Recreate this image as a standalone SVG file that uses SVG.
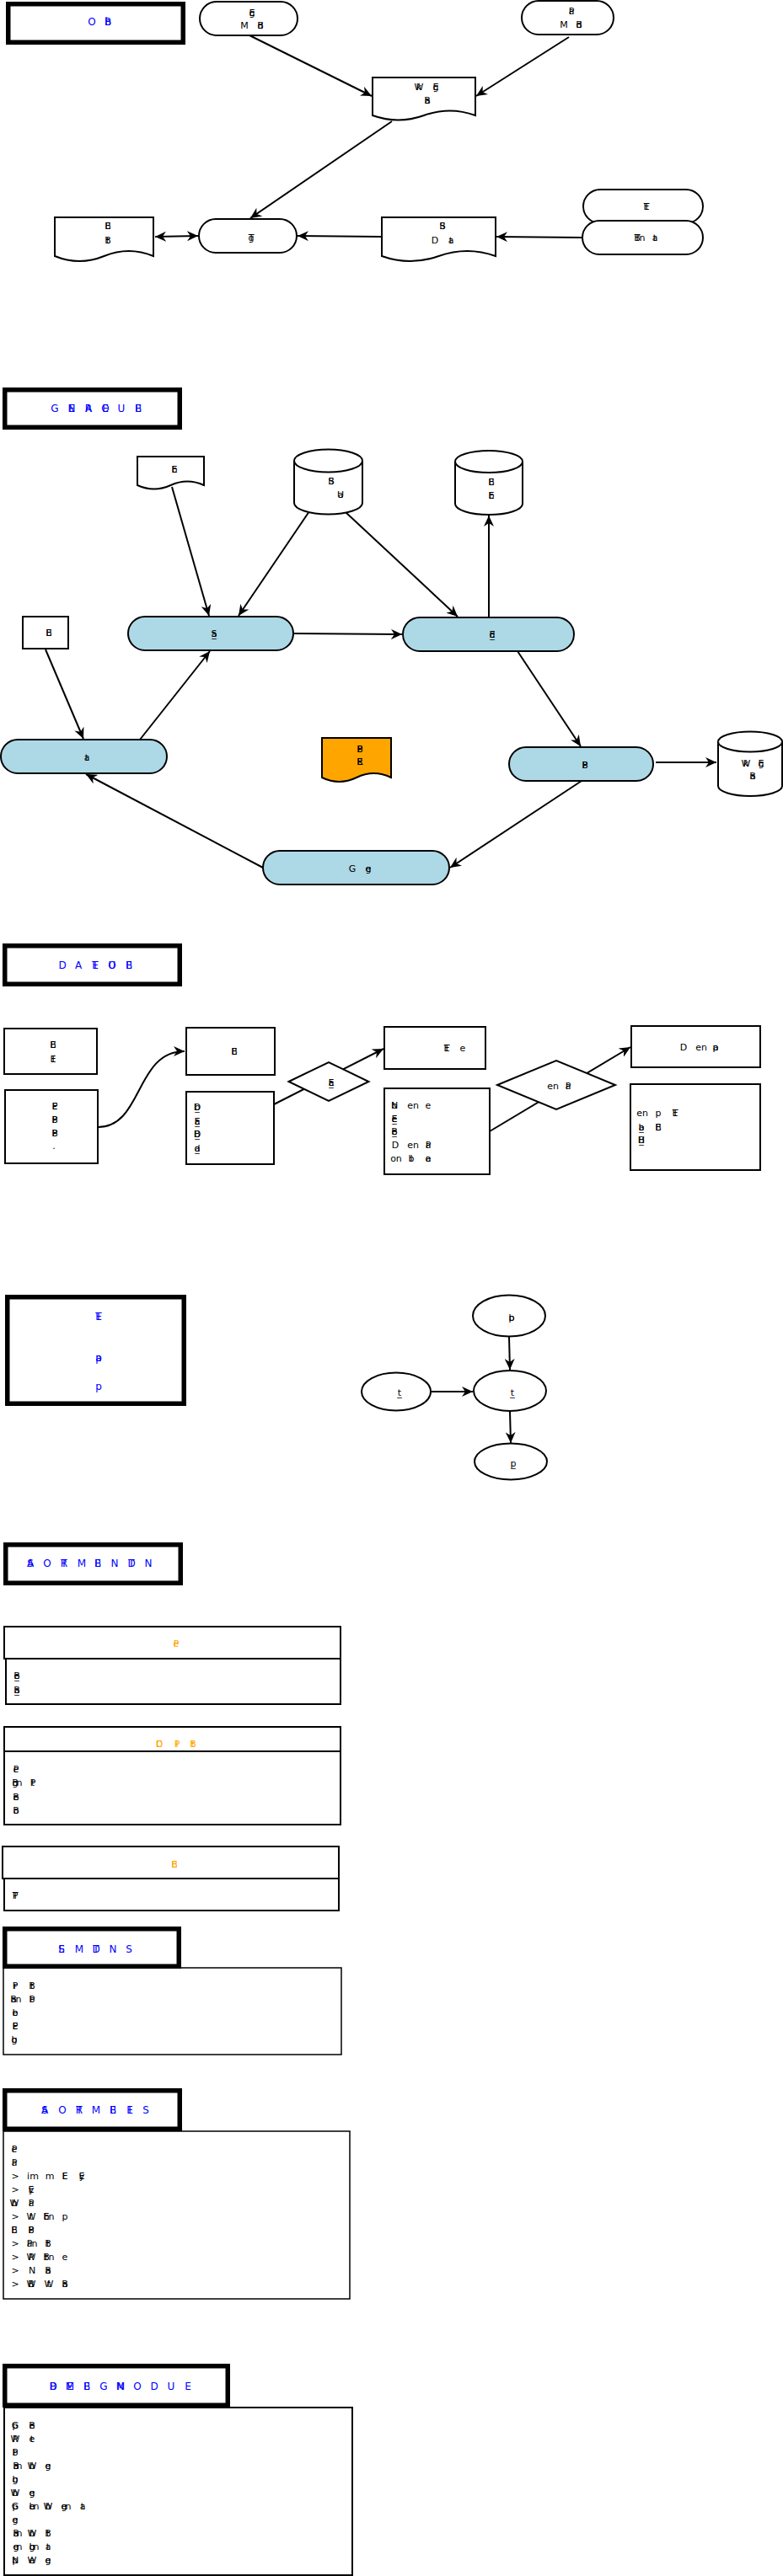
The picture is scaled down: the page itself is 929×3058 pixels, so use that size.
<svg xmlns="http://www.w3.org/2000/svg" width="929" height="3058" viewBox="0 0 929 3058">
<defs>
<marker id="ah" markerWidth="14" markerHeight="12" refX="13" refY="6" orient="auto-start-reverse" markerUnits="userSpaceOnUse"><path d="M0,0 L13,6 L0,12 L4,6 Z" fill="#000"/></marker>
</defs>
<style>
.t{font-family:"DejaVu Sans",sans-serif;font-size:11px;fill:#000;text-anchor:middle}
.h{font-family:"DejaVu Sans",sans-serif;font-size:12px;fill:#0000ff;text-anchor:middle}
.o{font-family:"DejaVu Sans",sans-serif;font-size:11px;fill:#ffa500;text-anchor:middle}
.tb{fill:#fff;stroke:#000;stroke-width:5.5}
.n{fill:#fff;stroke:#000;stroke-width:2}
.p{fill:#add8e6;stroke:#000;stroke-width:2}
.or{fill:#ffa500;stroke:#000;stroke-width:2}
.c line,.c path{stroke:#000;stroke-width:2;fill:none;marker-end:url(#ah)}
</style>
<rect width="929" height="3058" fill="#fff"/>

<!-- connectors -->
<g id="connectors" class="c">
<line x1="296" y1="42" x2="441" y2="114"/>
<line x1="675" y1="44" x2="565" y2="114"/>
<line x1="465" y1="144" x2="297" y2="259"/>
<line x1="184" y1="281" x2="235" y2="280" marker-start="url(#ah)"/>
<line x1="453" y1="281" x2="353" y2="280"/>
<line x1="691" y1="282" x2="589" y2="281"/>
<line x1="204" y1="578" x2="248" y2="731"/>
<line x1="367" y1="607" x2="283" y2="731"/>
<line x1="410" y1="608" x2="543" y2="732"/>
<line x1="580" y1="733" x2="580" y2="612"/>
<line x1="348" y1="752" x2="477" y2="753"/>
<line x1="54" y1="771" x2="99" y2="877"/>
<line x1="166" y1="878" x2="249" y2="773"/>
<line x1="614" y1="773" x2="689" y2="886"/>
<line x1="778" y1="905" x2="850" y2="905"/>
<line x1="690" y1="927" x2="534" y2="1030"/>
<line x1="312" y1="1030" x2="102" y2="919"/>
<path d="M116,1338 C170,1338 160,1248 219,1248"/>
<line x1="325" y1="1311" x2="455" y2="1245"/>
<line x1="581" y1="1343" x2="748" y2="1243"/>
<line x1="604" y1="1587" x2="605" y2="1626"/>
<line x1="512" y1="1652" x2="561" y2="1652"/>
<line x1="605" y1="1676" x2="606" y2="1713"/>
</g>

<!-- Section 1 -->
<g id="title1"><rect class="tb" x="9.75" y="4.75" width="207.5" height="45.5"/><text class="h" y="30"><tspan x="109">O</tspan><tspan x="128 128">Bb</tspan></text></g>
<g id="s1t1"><rect class="n" x="237" y="2" width="116" height="40" rx="20"/><text class="t"><tspan x="299 299" y="19">Eg</tspan><tspan x="290" y="34">M</tspan><tspan x="309 309" y="34">Bd</tspan></text></g>
<g id="s1t2"><rect class="n" x="619" y="1" width="109" height="40" rx="20"/><text class="t"><tspan x="678 678" y="17">Pa</tspan><tspan x="669" y="33">M</tspan><tspan x="687 687" y="33">Bd</tspan></text></g>
<g id="s1d1"><path class="n" d="M442,92 H564 V137 Q533.5,126 503,137 T442,137 Z"/><text class="t"><tspan x="497 497" y="107">Wk</tspan><tspan x="517 517" y="107">Eg</tspan><tspan x="507 507" y="123">Ba</tspan></text></g>
<g id="s1t3"><rect class="n" x="236" y="260" width="116" height="40" rx="20"/><text class="t"><tspan x="298 298" y="286">Tg</tspan></text></g>
<g id="s1d2"><path class="n" d="M65,258 H182 V304 Q152.75,292 123.5,304 T65,304 Z"/><text class="t"><tspan x="128 128" y="272">EB</tspan><tspan x="128 128" y="289">tB</tspan></text></g>
<g id="s1d3"><path class="n" d="M453,258 H588 V304 Q554.25,292 520.5,304 T453,304 Z"/><text class="t"><tspan x="525 525" y="272">SB</tspan><tspan x="516" y="289">D</tspan><tspan x="535 535" y="289">ta</tspan></text></g>
<g id="s1t4"><rect class="n" x="692" y="225" width="142" height="40" rx="20"/><text class="t"><tspan x="767 767" y="249">TE</tspan></text></g>
<g id="s1t5"><rect class="n" x="691" y="262" width="143" height="40" rx="20"/><text class="t"><tspan x="756 756 762" y="286">TBn</tspan><tspan x="777 777" y="286">ta</tspan></text></g>

<!-- Section 2 -->
<g id="title2"><rect class="tb" x="5.75" y="462.75" width="207.5" height="44.5"/><text class="h" y="489"><tspan x="65">G</tspan><tspan x="85 85">EN</tspan><tspan x="105 105">AR</tspan><tspan x="125 125">EO</tspan><tspan x="144">U</tspan><tspan x="164 164">BE</tspan></text></g>
<g id="s2doc"><path class="n" d="M163,542 H242 V576 Q222.25,567 202.5,576 T163,576 Z"/><text class="t"><tspan x="207 207" y="561">Eb</tspan></text></g>
<g id="s2cyl1"><path class="n" d="M349,547 A40.5,13.5 0 0 1 430,547 V597 A40.5,13.5 0 0 1 349,597 Z"/><path class="n" d="M349,547 A40.5,13.5 0 0 0 430,547" fill="none"/><text class="t"><tspan x="393 393" y="575">SB</tspan><tspan x="404 404" y="591">Ua</tspan></text></g>
<g id="s2cyl2"><path class="n" d="M540,548 A40,13 0 0 1 620,548 V598 A40,13 0 0 1 540,598 Z"/><path class="n" d="M540,548 A40,13 0 0 0 620,548" fill="none"/><text class="t"><tspan x="583 583" y="576">EB</tspan><tspan x="583 583" y="592">Eb</tspan></text></g>
<g id="s2rect"><rect class="n" x="27" y="732" width="54" height="38"/><text class="t"><tspan x="58 58" y="755">EB</tspan></text></g>
<g id="s2pA"><rect class="p" x="152" y="732" width="196" height="40" rx="20"/><text class="t"><tspan x="254 254 254" y="756">Sa_</tspan></text></g>
<g id="s2pB"><rect class="p" x="478" y="733" width="203" height="40" rx="20"/><text class="t"><tspan x="584 584 584" y="757">Ed_</tspan></text></g>
<g id="s2pC"><rect class="p" x="1" y="878" width="197" height="40" rx="20"/><text class="t"><tspan x="103 103" y="903">ta</tspan></text></g>
<g id="s2pD"><rect class="p" x="604" y="887" width="171" height="40" rx="20"/><text class="t"><tspan x="694 694" y="912">PB</tspan></text></g>
<g id="s2cyl3"><path class="n" d="M852,880.5 A38,12 0 0 1 928,880.5 V933 A38,12 0 0 1 852,933 Z"/><path class="n" d="M852,880.5 A38,12 0 0 0 928,880.5" fill="none"/><text class="t"><tspan x="885 885" y="910">Wk</tspan><tspan x="903 903" y="910">Eg</tspan><tspan x="893 893" y="925">Ba</tspan></text></g>
<g id="s2pE"><rect class="p" x="312" y="1010" width="221" height="40" rx="20"/><text class="t"><tspan x="418" y="1035">G</tspan><tspan x="437 437" y="1035">eg</tspan></text></g>
<g id="s2orange"><path class="or" d="M382,876 H464 V923 Q443.5,913 423,923 T382,923 Z"/><text class="t"><tspan x="427 427" y="893">PB</tspan><tspan x="427 427" y="908">RE</tspan></text></g>

<!-- Section 3 -->
<g id="title3"><rect class="tb" x="5.75" y="1122.75" width="207.5" height="45.5"/><text class="h" y="1150"><tspan x="74">D</tspan><tspan x="93">A</tspan><tspan x="113 113">TE</tspan><tspan x="133 133">UO</tspan><tspan x="153 153">BE</tspan></text></g>
<g id="s3b1"><rect class="n" x="5" y="1221" width="110" height="54"/><text class="t"><tspan x="63 63" y="1244">EB</tspan><tspan x="63 63" y="1261">IE</tspan></text></g>
<g id="s3b2"><rect class="n" x="6" y="1294" width="110" height="87"/><text class="t"><tspan x="65 65" y="1317">PE</tspan><tspan x="65 65" y="1333">PB</tspan><tspan x="65 65" y="1349">PB</tspan><tspan x="64" y="1364">.</tspan></text></g>
<g id="s3b3"><rect class="n" x="221" y="1220" width="105" height="56"/><text class="t"><tspan x="278 278" y="1252">EB</tspan></text></g>
<g id="s3b4"><rect class="n" x="221" y="1296" width="104" height="86"/><text class="t"><tspan x="234 234 234" y="1318">bD_</tspan><tspan x="234 234 234" y="1335">Ea_</tspan><tspan x="234 234 234" y="1350">BD_</tspan><tspan x="234 234 234" y="1367">da_</tspan></text></g>
<g id="s3d1"><polygon class="n" points="342.5,1284 390,1261 437.5,1284 390,1307"/><text class="t"><tspan x="393 393 393" y="1289">Ea_</tspan></text></g>
<g id="s3b5"><rect class="n" x="456" y="1219" width="120" height="50"/><text class="t"><tspan x="530 530" y="1248">TE</tspan><tspan x="549" y="1248">e</tspan></text></g>
<g id="s3b6"><rect class="n" x="456" y="1292" width="125" height="102"/><text class="t"><tspan x="468 468" y="1316">bN</tspan><tspan x="490" y="1316">en</tspan><tspan x="508" y="1316">e</tspan><tspan x="468 468 468" y="1332">Ee_</tspan><tspan x="468 468 468" y="1347">Be_</tspan><tspan x="469" y="1363">D</tspan><tspan x="490" y="1363">en</tspan><tspan x="508 508" y="1363">Pa</tspan><tspan x="470" y="1379">on</tspan><tspan x="488 488" y="1379">bl</tspan><tspan x="508 508" y="1379">ea</tspan></text></g>
<g id="s3d2"><polygon class="n" points="590,1288 660,1259 730,1288 660,1317"/><text class="t"><tspan x="656" y="1293">en</tspan><tspan x="674 674" y="1293">Pa</tspan></text></g>
<g id="s3b7"><rect class="n" x="749" y="1218" width="153" height="49"/><text class="t"><tspan x="811" y="1247">D</tspan><tspan x="832" y="1247">en</tspan><tspan x="849 849" y="1247">pa</tspan></text></g>
<g id="s3b8"><rect class="n" x="748" y="1287" width="154" height="102"/><text class="t"><tspan x="762" y="1325">en</tspan><tspan x="781" y="1325">p</tspan><tspan x="801 801" y="1325">TE</tspan><tspan x="761 761 761" y="1342">ba_</tspan><tspan x="781 781" y="1342">EB</tspan><tspan x="761 761 761" y="1357">BH_</tspan></text></g>

<!-- Section 4 -->
<g id="title4"><rect class="tb" x="8.75" y="1539.75" width="209.5" height="126.5"/><text class="h"><tspan x="117 117" y="1567">TE</tspan><tspan x="117 117" y="1616">pa</tspan><tspan x="117" y="1650">p</tspan></text></g>
<g id="s4e1"><ellipse class="n" cx="604" cy="1562" rx="43" ry="24.5"/><text class="t"><tspan x="607 607" y="1568">bp</tspan></text></g>
<g id="s4e2"><ellipse class="n" cx="605" cy="1651" rx="43" ry="24"/><text class="t"><tspan x="608 608" y="1657">t_</tspan></text></g>
<g id="s4e3"><ellipse class="n" cx="470" cy="1652" rx="41" ry="22.5"/><text class="t"><tspan x="474 474" y="1657">t_</tspan></text></g>
<g id="s4e4"><ellipse class="n" cx="606" cy="1735" rx="43" ry="21.5"/><text class="t"><tspan x="609 609" y="1741">p_</tspan></text></g>

<!-- Section 5 -->
<g id="title5"><rect class="tb" x="6.75" y="1833.75" width="207.5" height="45.5"/><text class="h" y="1860"><tspan x="36 36">AS</tspan><tspan x="56">O</tspan><tspan x="76 76">TR</tspan><tspan x="97">M</tspan><tspan x="116 116">EB</tspan><tspan x="136">N</tspan><tspan x="156 156">TD</tspan><tspan x="176">N</tspan></text></g>
<g id="s5c1"><rect class="n" x="5" y="1931" width="399" height="38"/><rect class="n" x="7" y="1969" width="397" height="54"/><text class="o"><tspan x="209 209" y="1955">Pe</tspan></text><text class="t"><tspan x="20 20 20" y="1993">Be_</tspan><tspan x="20 20 20" y="2010">Ba_</tspan></text></g>
<g id="s5c2"><rect class="n" x="5" y="2050" width="399" height="29"/><rect class="n" x="5" y="2079" width="399" height="87"/><text class="o"><tspan x="189 189" y="2074">CD</tspan><tspan x="210 210" y="2074">Pl</tspan><tspan x="229 229" y="2074">tB</tspan></text><text class="t"><tspan x="19 19" y="2104">Pe</tspan><tspan x="18 18 23" y="2120">Bgn</tspan><tspan x="39 39" y="2120">tP</tspan><tspan x="19 19" y="2137">Be</tspan><tspan x="19 19" y="2153">Bo</tspan></text></g>
<g id="s5c3"><rect class="n" x="3" y="2192" width="399" height="38"/><rect class="n" x="5" y="2230" width="397" height="38"/><text class="o"><tspan x="207 207" y="2217">EB</tspan></text><text class="t"><tspan x="18 18" y="2254">PT</tspan></text></g>

<!-- Section 6 -->
<g id="s6a"><rect fill="#fff" stroke="#000" stroke-width="1.5" x="4" y="2336" width="401" height="103"/><rect class="tb" x="5.75" y="2289.75" width="206.5" height="44.5"/><text class="h" y="2318"><tspan x="73 73">SE</tspan><tspan x="94">M</tspan><tspan x="114 114">TD</tspan><tspan x="134">N</tspan><tspan x="153">S</tspan></text><text class="t"><tspan x="18 18" y="2361">Pr</tspan><tspan x="38 38" y="2361">Bt</tspan><tspan x="16 16 22" y="2377">Ban</tspan><tspan x="38 38" y="2377">Pb</tspan><tspan x="18 18" y="2393">be</tspan><tspan x="18 18" y="2409">PE</tspan><tspan x="17 17" y="2425">bg</tspan></text></g>
<g id="s6b"><rect fill="#fff" stroke="#000" stroke-width="1.5" x="4" y="2530" width="411" height="199"/><rect class="tb" x="5.75" y="2481.75" width="207.5" height="45.5"/><text class="h" y="2509"><tspan x="53 53">AS</tspan><tspan x="74">O</tspan><tspan x="94 94">TR</tspan><tspan x="114">M</tspan><tspan x="134 134">EB</tspan><tspan x="154 154">EI</tspan><tspan x="173">S</tspan></text>
<text class="t"><tspan x="17 17" y="2555">Pe</tspan><tspan x="17 17" y="2571">Pa</tspan><tspan x="18" y="2587">&gt;</tspan><tspan x="39" y="2587">im</tspan><tspan x="59" y="2587">m</tspan><tspan x="77 77" y="2587">EF</tspan><tspan x="97 97" y="2587">Ey</tspan><tspan x="18" y="2603">&gt;</tspan><tspan x="37 37" y="2603">Ey</tspan><tspan x="17 17" y="2619">Wb</tspan><tspan x="37 37" y="2619">Pa</tspan><tspan x="18" y="2635">&gt;</tspan><tspan x="37 37" y="2635">tW</tspan><tspan x="55 55 61" y="2635">Ebn</tspan><tspan x="77" y="2635">p</tspan><tspan x="17 17" y="2651">BE</tspan><tspan x="37 37" y="2651">PB</tspan><tspan x="18" y="2667">&gt;</tspan><tspan x="35 35 41" y="2667">Pan</tspan><tspan x="57 57" y="2667">tB</tspan><tspan x="18" y="2683">&gt;</tspan><tspan x="37 37" y="2683">PW</tspan><tspan x="55 55 61" y="2683">tBn</tspan><tspan x="77" y="2683">e</tspan><tspan x="18" y="2699">&gt;</tspan><tspan x="38" y="2699">N</tspan><tspan x="57 57" y="2699">Ba</tspan><tspan x="18" y="2715">&gt;</tspan><tspan x="37 37" y="2715">BW</tspan><tspan x="58 58" y="2715">tW</tspan><tspan x="77 77" y="2715">Ba</tspan></text></g>

<!-- Section 7 -->
<g id="s7"><rect fill="#fff" stroke="#000" stroke-width="2" x="5" y="2858" width="413" height="199"/><rect class="tb" x="5.75" y="2808.75" width="264.5" height="46.5"/><text class="h" y="2837"><tspan x="63 63">BD</tspan><tspan x="83 83">EM</tspan><tspan x="103 103">BE</tspan><tspan x="123">G</tspan><tspan x="143 143">NM</tspan><tspan x="163">O</tspan><tspan x="183">D</tspan><tspan x="203">U</tspan><tspan x="223">E</tspan></text>
<text class="t"><tspan x="18 18" y="2883">pG</tspan><tspan x="38 38" y="2883">eB</tspan><tspan x="18 18" y="2899">PW</tspan><tspan x="38 38" y="2899">te</tspan><tspan x="18 18" y="2915">bP</tspan><tspan x="19 19 23" y="2931">Ban</tspan><tspan x="38 38" y="2931">bW</tspan><tspan x="57 57" y="2931">eg</tspan><tspan x="18 18" y="2947">bg</tspan><tspan x="18 18" y="2963">bW</tspan><tspan x="38 38" y="2963">eg</tspan><tspan x="18 18" y="2979">pG</tspan><tspan x="38 38 43" y="2979">ebn</tspan><tspan x="57 57" y="2979">bW</tspan><tspan x="76 76 81" y="2979">egn</tspan><tspan x="98 98" y="2979">ta</tspan><tspan x="18 18" y="2995">eg</tspan><tspan x="19 19 23" y="3011">Ban</tspan><tspan x="38 38" y="3011">bW</tspan><tspan x="57 57" y="3011">tB</tspan><tspan x="19 19 23" y="3027">egn</tspan><tspan x="38 38 43" y="3027">bgn</tspan><tspan x="57 57" y="3027">ta</tspan><tspan x="18 18" y="3043">pN</tspan><tspan x="38 38" y="3043">eW</tspan><tspan x="57 57" y="3043">eg</tspan></text></g>
</svg>
